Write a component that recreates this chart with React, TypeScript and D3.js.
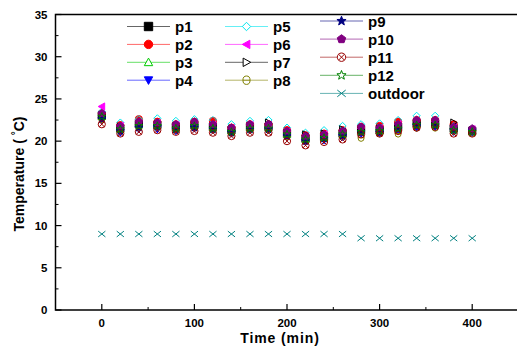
import React from "react";
import * as d3 from "d3";

const times = [0, 20, 40, 60, 80, 100, 120, 140, 160, 180, 200, 220, 240, 260, 280, 300, 320, 340, 360, 380, 400];

const p1 = [23.0, 21.5, 22.0, 21.9, 21.7, 21.9, 21.7, 21.3, 21.7, 21.7, 20.9, 20.3, 20.5, 20.9, 21.3, 21.3, 21.7, 22.1, 22.1, 21.5, 21.2];
const p2 = [23.3, 21.9, 22.6, 22.3, 22.0, 22.3, 22.4, 21.6, 22.0, 22.0, 21.3, 20.7, 20.9, 21.3, 21.7, 21.8, 22.3, 22.5, 22.5, 22.0, 21.3];
const p3 = [22.9, 21.4, 21.9, 21.9, 21.6, 21.9, 21.6, 21.2, 21.6, 21.6, 20.8, 20.2, 20.4, 20.8, 21.2, 21.2, 21.6, 22.0, 22.0, 21.4, 21.1];
const p4 = [22.5, 21.0, 21.4, 21.4, 21.2, 21.5, 21.3, 20.9, 21.3, 21.3, 20.5, 19.9, 20.1, 20.5, 20.9, 20.9, 21.3, 21.6, 21.7, 21.1, 21.0];
const p5 = [23.5, 22.2, 22.6, 22.7, 22.4, 22.6, 22.5, 22.0, 22.4, 22.5, 21.6, 21.0, 21.3, 21.8, 22.0, 22.1, 22.5, 23.0, 23.0, 21.8, 21.4];
const p6 = [24.1, 21.8, 22.1, 22.1, 21.9, 22.1, 21.9, 21.5, 21.9, 21.9, 21.1, 20.5, 20.8, 21.1, 21.5, 21.5, 22.0, 22.3, 22.3, 21.7, 21.4];
const p7 = [23.1, 21.7, 22.0, 22.0, 21.8, 22.0, 21.8, 21.4, 21.8, 22.2, 21.0, 20.8, 20.9, 21.4, 21.4, 21.5, 21.8, 22.2, 22.3, 22.2, 21.3];
const p8 = [22.6, 21.3, 21.7, 21.7, 21.4, 21.7, 21.4, 21.0, 21.4, 21.4, 20.6, 20.1, 20.4, 20.6, 20.4, 21.0, 20.9, 21.6, 21.6, 21.2, 21.0];
const p9 = [22.6, 21.2, 21.6, 21.7, 21.4, 21.6, 21.4, 21.0, 21.4, 21.4, 20.6, 20.0, 20.3, 20.6, 21.0, 21.0, 21.4, 21.8, 21.8, 21.3, 21.3];
const p10 = [23.3, 21.8, 22.3, 22.2, 22.0, 22.3, 22.0, 21.6, 22.0, 22.0, 21.2, 20.6, 20.8, 21.2, 21.7, 21.6, 22.0, 22.5, 22.5, 21.7, 21.5];
const p11 = [22.0, 20.9, 21.1, 21.3, 21.1, 21.2, 21.0, 20.6, 21.0, 21.0, 20.0, 19.5, 19.9, 20.2, 20.8, 20.9, 21.2, 21.6, 21.7, 20.9, 20.9];
const p12 = [22.9, 21.4, 21.8, 21.8, 21.5, 21.8, 21.5, 21.1, 21.5, 21.5, 20.8, 20.2, 20.4, 20.8, 21.1, 21.2, 21.5, 21.9, 21.9, 21.3, 21.1];
const outdoor = [9, 9, 9, 9, 9, 9, 9, 9, 9, 9, 9, 9, 9, 9, 8.5, 8.5, 8.5, 8.5, 8.5, 8.5, 8.5];

const seriesNames = ["p1", "p2", "p3", "p4", "p5", "p6", "p7", "p8", "p9", "p10", "p11", "p12", "outdoor"];
const seriesValues = [p1, p2, p3, p4, p5, p6, p7, p8, p9, p10, p11, p12, outdoor];
const seriesColors = ["#000000", "#ff0000", "#00cc00", "#0000ff", "#00e5ee", "#ff00ff", "#000000", "#808000", "#000080", "#800080", "#990000", "#008000", "#008080"];
const seriesShapes = ["square", "circle", "triUp", "triDown", "diamond", "triLeft", "triRight", "hcircle", "star", "pentagon", "crossCircle", "star", "x"];
const seriesFilled = [true, true, false, true, false, true, false, false, true, true, false, false, false];

const xTicks = [0, 100, 200, 300, 400];
const xMinor = [-50, 50, 150, 250, 350];
const yTicks = [0, 5, 10, 15, 20, 25, 30, 35];
const yMinor = [2.5, 7.5, 12.5, 17.5, 22.5, 27.5, 32.5];

const W = 517;
const H = 351;
const x = d3.scaleLinear().domain([-50, 450]).range([55.5, 518.5]);
const y = d3.scaleLinear().domain([0, 35]).range([310, 14.5]);

function starPath(r: number) {
  const pts: string[] = [];
  for (let i = 0; i < 10; i++) {
    const rr = i % 2 === 0 ? r : r * 0.42;
    const a = -Math.PI / 2 + (i * Math.PI) / 5;
    pts.push(`${(rr * Math.cos(a)).toFixed(2)},${(rr * Math.sin(a)).toFixed(2)}`);
  }
  return "M" + pts.join("L") + "Z";
}
function pentPath(r: number) {
  const pts: string[] = [];
  for (let i = 0; i < 5; i++) {
    const a = -Math.PI / 2 + (i * 2 * Math.PI) / 5;
    pts.push(`${(r * Math.cos(a)).toFixed(2)},${(r * Math.sin(a)).toFixed(2)}`);
  }
  return "M" + pts.join("L") + "Z";
}
function circ(r: number) {
  return `M${-r},0A${r},${r} 0 1,0 ${r},0A${r},${r} 0 1,0 ${-r},0Z`;
}

function markerPath(shape: string, r: number): string {
  switch (shape) {
    case "square":
      return `M${-r},${-r}h${2 * r}v${2 * r}h${-2 * r}Z`;
    case "circle":
      return circ(r);
    case "triUp":
      return `M0,${-r}L${r},${r * 0.8}L${-r},${r * 0.8}Z`;
    case "triDown":
      return `M0,${r}L${r},${-r * 0.8}L${-r},${-r * 0.8}Z`;
    case "triLeft":
      return `M${-r},0L${r * 0.8},${-r}L${r * 0.8},${r}Z`;
    case "triRight":
      return `M${r},0L${-r * 0.8},${-r}L${-r * 0.8},${r}Z`;
    case "diamond":
      return `M0,${-r}L${r},0L0,${r}L${-r},0Z`;
    case "star":
      return starPath(r * 1.15);
    case "pentagon":
      return pentPath(r * 1.05);
    case "hcircle":
      return `M${-r * 0.85},0A${r * 0.85},${r} 0 1,0 ${r * 0.85},0A${r * 0.85},${r} 0 1,0 ${-r * 0.85},0ZM${-r * 0.85},0H${r * 0.85}`;
    case "crossCircle": {
      const k = r * 0.7;
      return circ(r) + `M${-k},${-k}L${k},${k}M${k},${-k}L${-k},${k}`;
    }
    case "x":
      return `M${-r},${-r * 0.8}L${r},${r * 0.8}M${r},${-r * 0.8}L${-r},${r * 0.8}`;
    default:
      return circ(r);
  }
}

const legendItems = seriesNames.map((name, i) => {
  let col: number, row: number;
  if (i < 4) { col = 0; row = i; }
  else if (i < 8) { col = 1; row = i - 4; }
  else { col = 2; row = i - 8; }
  return { name, i, col, row };
});
const legendCols = [
  { x0: 127, x1: 170, y0: 26.5, dy: 17.9 },
  { x0: 225, x1: 268, y0: 26.5, dy: 17.9 },
  { x0: 320, x1: 363, y0: 21, dy: 18.1 },
];

export default function App() {
  const font = "'Liberation Sans', Arial, sans-serif";
  return (
    <div style={{ position: "absolute", left: 0, top: 0 }}>
      <svg width={W} height={H} style={{ display: "block", background: "#fff" }} fontFamily={font}>
        <rect width={W} height={H} fill="#fff" />
        {/* frame */}
        <rect x={x(-50)} y={y(35)} width={x(450) - x(-50)} height={y(0) - y(35)} fill="none" stroke="#000" strokeWidth={1.5} />
        {/* x ticks */}
        {xTicks.map((t) => (
          <g key={"xt" + t}>
            <line x1={x(t)} x2={x(t)} y1={y(0)} y2={y(0) - 6} stroke="#000" strokeWidth={1.2} />
            <text x={x(t)} y={y(0) + 17} textAnchor="middle" fontSize={11.5} fontWeight="bold">{t}</text>
          </g>
        ))}
        {xMinor.map((t) => (
          <line key={"xm" + t} x1={x(t)} x2={x(t)} y1={y(0)} y2={y(0) - 3} stroke="#000" strokeWidth={1} />
        ))}
        {yTicks.map((t) => (
          <g key={"yt" + t}>
            <line x1={x(-50)} x2={x(-50) + 6} y1={y(t)} y2={y(t)} stroke="#000" strokeWidth={1.2} />
            <text x={47.5} y={y(t) + 4} textAnchor="end" fontSize={11.5} fontWeight="bold">{t}</text>
          </g>
        ))}
        {yMinor.map((t) => (
          <line key={"ym" + t} x1={x(-50)} x2={x(-50) + 3} y1={y(t)} y2={y(t)} stroke="#000" strokeWidth={1} />
        ))}
        {/* axis titles */}
        <text x={280} y={343} textAnchor="middle" fontSize={14} fontWeight="bold" letterSpacing={0.9}>Time (min)</text>
        <text transform={`translate(23.5,${174}) rotate(-90)`} textAnchor="middle" fontSize={14} fontWeight="bold">
          Temperature ( <tspan dy={-5} fontSize={10}>°</tspan><tspan dy={5}>C)</tspan>
        </text>
        {/* data */}
        {seriesValues.map((vals, si) => (
          <g key={"s" + si}>
            {vals.map((v, j) => (
              <path
                key={j}
                transform={`translate(${x(times[j])},${y(v)})`}
                d={markerPath(seriesShapes[si], 3.6)}
                fill={seriesFilled[si] ? seriesColors[si] : "none"}
                stroke={seriesColors[si]}
                strokeWidth={1}
              />
            ))}
          </g>
        ))}
        {/* legend */}
        {legendItems.map((it) => {
          const c = legendCols[it.col];
          const ly = c.y0 + it.row * c.dy;
          const mx = (c.x0 + c.x1) / 2;
          return (
            <g key={"lg" + it.name}>
              <line x1={c.x0} x2={c.x1} y1={ly} y2={ly} stroke={seriesColors[it.i]} strokeOpacity={0.6} strokeWidth={1} />
              <path
                transform={`translate(${mx},${ly})`}
                d={markerPath(seriesShapes[it.i], 4.2)}
                fill={seriesFilled[it.i] ? seriesColors[it.i] : "#fff"}
                stroke={seriesColors[it.i]}
                strokeWidth={1}
              />
              <text x={c.x1 + 5} y={ly + 5.5} fontSize={15} fontWeight="bold">{it.name}</text>
            </g>
          );
        })}
      </svg>
    </div>
  );
}
